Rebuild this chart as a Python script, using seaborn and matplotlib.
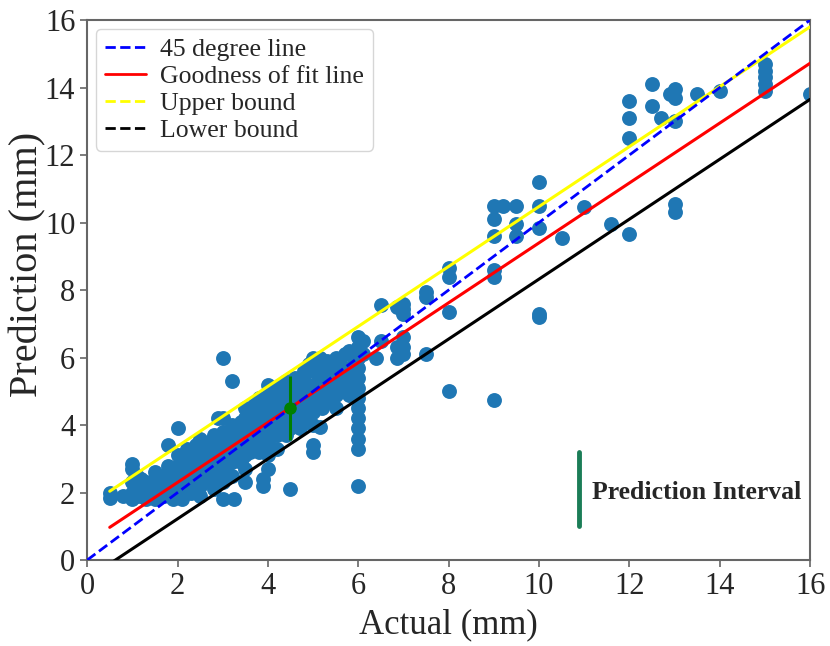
import matplotlib
matplotlib.use("Agg")
import pandas as pd
import matplotlib.pyplot as plt
import seaborn as sns
from matplotlib.lines import Line2D

# ===== Data =====
# scatter points grouped by actual value (column x -> predicted values)
actual_cols = [0.5, 0.8, 1.0, 1.1, 1.2, 1.3, 1.5, 1.7, 1.8, 1.9,
               2.0, 2.1, 2.2, 2.3, 2.4, 2.5, 2.6, 2.7, 2.8, 2.9,
               3.0, 3.1, 3.2, 3.25, 3.3, 3.4, 3.5, 3.6, 3.7, 3.8,
               3.9, 4.0, 4.1, 4.2, 4.3, 4.4, 4.5, 4.6, 4.7, 4.8,
               4.9, 5.0, 5.1, 5.15, 5.2, 5.3, 5.4, 5.5, 5.6, 5.7,
               5.8, 5.9, 6.0, 6.1, 6.4, 6.5, 6.85, 7.0, 7.5, 8.0,
               9.0, 9.2, 9.5, 10.0, 10.5, 11.0, 11.6, 12.0, 12.5, 12.7,
               12.9, 13.0, 13.5, 14.0, 15.0, 16.0]
predicted_cols = [
    [2.0, 1.85], [1.9], [2.85, 2.7, 2.3, 2.0, 1.8], [2.5, 2.1, 1.9],
    [2.4, 2.2, 1.9], [2.3, 2.0, 1.8], [2.6, 2.3, 2.0, 1.8], [2.5, 2.2, 1.9],
    [3.4, 2.8, 2.4, 2.0], [2.7, 2.3, 1.8],
    [3.9, 3.1, 2.8, 2.5, 2.2, 1.9], [3.0, 2.6, 2.1, 1.8], [3.3, 2.9, 2.5, 2.2],
    [3.1, 2.7, 2.3, 2.0], [3.4, 3.0, 2.6], [3.6, 3.2, 2.8, 2.5, 2.2, 1.9],
    [3.3, 2.9, 2.4], [3.5, 3.1, 2.7, 2.3], [3.7, 3.3, 2.9, 2.5, 2.1],
    [4.2, 3.4, 3.0, 2.6],
    [6.0, 4.2, 3.8, 3.5, 3.1, 2.7, 2.3, 1.8], [3.6, 3.2, 2.8],
    [5.3, 4.0, 3.6, 3.3, 2.9, 2.5], [1.8], [3.8, 3.4, 3.0], [4.1, 3.7, 3.3, 2.9],
    [4.5, 4.2, 3.8, 3.5, 3.1, 2.7, 2.3], [4.3, 3.9, 3.5, 3.2],
    [4.6, 4.2, 3.8, 3.4], [4.8, 4.4, 4.0, 3.6, 3.2],
    [4.5, 4.1, 3.7, 2.4, 2.2], [5.2, 4.9, 4.6, 4.2, 3.8, 3.5, 3.1, 2.7],
    [5.1, 4.7, 4.3, 3.9], [5.0, 4.6, 4.1, 3.7, 3.3], [5.2, 4.8, 4.4, 4.0],
    [5.3, 4.9, 4.5, 4.1, 3.7], [5.1, 4.7, 4.3, 3.9, 2.1], [5.4, 5.0, 4.6, 4.2],
    [5.2, 4.8, 4.4, 3.9], [5.6, 5.3, 4.9, 4.5, 4.1],
    [5.8, 5.1, 4.7, 4.3], [6.0, 5.6, 5.2, 4.8, 4.4, 4.0, 3.4, 3.2],
    [5.5, 5.1, 4.7], [6.0, 3.95], [5.7, 5.3, 4.9, 4.5], [5.9, 5.5, 5.1, 4.7],
    [5.6, 5.2, 4.8], [6.0, 5.7, 5.3, 4.9, 4.5], [5.8, 5.4, 5.0], [6.1, 5.5, 5.1],
    [6.2, 5.7, 5.3, 4.9], [6.0, 5.6, 5.2],
    [6.6, 6.3, 6.0, 5.7, 5.4, 5.1, 4.8, 4.5, 4.2, 3.9, 3.6, 3.3, 2.2],
    [6.5, 6.1], [6.0], [7.55, 6.5], [7.5, 6.3, 6.0],
    [7.6, 7.45, 7.3, 6.6, 6.3, 6.1], [7.95, 7.8, 6.1], [8.65, 8.4, 7.35, 5.0],
    [10.5, 10.1, 9.6, 8.6, 8.4, 4.75], [10.5], [10.5, 9.95, 9.6],
    [11.2, 10.5, 9.85, 7.3, 7.2], [9.55], [10.45], [9.95],
    [13.6, 13.1, 12.5, 9.65], [14.1, 13.45], [13.1],
    [13.8], [13.95, 13.7, 13.0, 10.55, 10.3], [13.8], [13.9],
    [14.7, 14.5, 14.3, 14.1, 13.9], [13.8],
]

# reference lines (end points)
diag_x = [0, 16]
diag_y = [0, 16]
fit_x = [0.5, 16]
fit_y = [0.97, 14.72]
upper_y = [2.04, 15.8]
lower_y = [-0.11, 13.65]

# prediction interval example
pi_x = 4.5
pi_y = 4.5
pi_err = 0.95

rows = [(x, y) for x, ys in zip(actual_cols, predicted_cols) for y in ys]
df = pd.DataFrame(rows, columns=["actual", "prediction"])

sns.set_style("ticks")
plt.rcParams["font.family"] = ["Liberation Serif", "DejaVu Serif"]

fig, ax = plt.subplots(figsize=(8.3, 6.46), dpi=100)
fig.subplots_adjust(left=0.105, right=0.976, bottom=0.133, top=0.969)

sns.scatterplot(data=df, x="actual", y="prediction", ax=ax, s=115,
                color="#1f77b4", linewidth=0, zorder=2)

sns.lineplot(x=diag_x, y=diag_y, ax=ax, color="blue", linestyle="--", lw=2, zorder=4)
sns.lineplot(x=fit_x, y=fit_y, ax=ax, color="red", lw=2.2, zorder=3)
sns.lineplot(x=fit_x, y=upper_y, ax=ax, color="yellow", lw=2.2, zorder=3)
sns.lineplot(x=fit_x, y=lower_y, ax=ax, color="black", lw=2.2, zorder=3)

ax.errorbar(pi_x, pi_y, yerr=pi_err, fmt="o", color="green", ms=8, lw=2.2, zorder=5)

# legend key for the interval
ax.plot([10.88, 10.88], [1.0, 3.2], color="#1b7d57", lw=3.5)
ax.text(11.18, 2.0, "Prediction Interval", fontsize=18.5, fontweight="bold", va="center")

ax.set_xlim(0, 16)
ax.set_ylim(0, 16)
ax.set_xticks(range(0, 17, 2))
ax.set_yticks(range(0, 17, 2))
ax.tick_params(labelsize=22, color="#666666", length=5, width=1.2)
ax.set_xlabel("Actual (mm)", fontsize=25, labelpad=5)
ax.set_ylabel("Prediction (mm)", fontsize=29)
ax.yaxis.set_label_coords(-0.057, 0.548)
for sp in ax.spines.values():
    sp.set_color("#666666")
    sp.set_linewidth(1.5)

handles = [
    Line2D([], [], color="blue", linestyle="--", lw=2),
    Line2D([], [], color="red", lw=2),
    Line2D([], [], color="yellow", linestyle="--", lw=2),
    Line2D([], [], color="black", linestyle="--", lw=2),
]
labels = ["45 degree line", "Goodness of fit line", "Upper bound", "Lower bound"]
ax.legend(handles, labels, loc="upper left", fontsize=18.5, labelspacing=0.15,
          handlelength=1.6, handletextpad=0.55, borderpad=0.35,
          borderaxespad=0.35, frameon=True)

fig.savefig("out.png", dpi=100)
